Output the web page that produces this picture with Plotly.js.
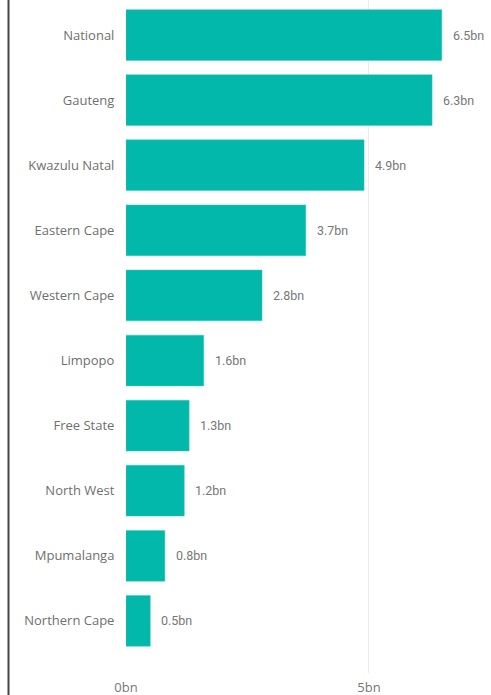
<!DOCTYPE html>
<html>
<head>
<meta charset="utf-8">
<script src="https://cdn.plot.ly/plotly-3.0.1.min.js"></script>
<style>html,body{margin:0;padding:0;background:#fff;}#chart{width:491px;height:695px;}</style>
</head>
<body>
<div id="chart"></div>
<script>
const provinces = ["National","Gauteng","Kwazulu Natal","Eastern Cape","Western Cape","Limpopo","Free State","North West","Mpumalanga","Northern Cape"];
const values = [6.5, 6.3, 4.9, 3.7, 2.8, 1.6, 1.3, 1.2, 0.8, 0.5];
const valueLabels = values.map(v => v.toFixed(1) + "bn");
const tickVals = [0, 5];
const tickText = ["0bn", "5bn"];

const trace = {
  type: "bar",
  orientation: "h",
  y: provinces,
  x: values,
  marker: {color: "#01B8AA", line: {color: "#3fcabf", width: 0.5}},
  width: 0.78,
  hoverinfo: "none"
};

const annotations = provinces.map((p, i) => ({
  x: values[i], y: p, xref: "x", yref: "y",
  text: valueLabels[i], showarrow: false,
  xanchor: "left", xshift: 9,
  font: {family: "Liberation Sans Narrow, Roboto, sans-serif", size: 12.5, color: "#777"}
}));

const layout = {
  width: 491, height: 695,
  margin: {l: 126, r: 4, t: 0, b: 22},
  paper_bgcolor: "#fff", plot_bgcolor: "#fff",
  showlegend: false,
  bargap: 0.22,
  font: {family: "Open Sans, sans-serif", color: "#6f6f6f"},
  xaxis: {
    range: [0, 7.43],
    tickvals: tickVals, ticktext: tickText,
    showgrid: true, gridcolor: "#ebebeb", gridwidth: 1,
    zeroline: false, showline: false,
    ticks: "outside", ticklen: 2, tickcolor: "rgba(0,0,0,0)",
    tickfont: {family: "Open Sans, sans-serif", size: 13, color: "#777"},
    fixedrange: true
  },
  yaxis: {
    type: "category",
    categoryorder: "array", categoryarray: provinces,
    range: [9.8, -0.538],
    showgrid: false, zeroline: false, showline: false,
    ticks: "outside", ticklen: 8, tickcolor: "rgba(0,0,0,0)",
    tickfont: {family: "Open Sans, sans-serif", size: 13, color: "#6f6f6f"},
    fixedrange: true
  },
  shapes: [{
    type: "line", xref: "paper", yref: "paper",
    x0: -0.3255, x1: -0.3255, y0: -0.04, y1: 1.01,
    line: {color: "#444", width: 2}
  }],
  annotations: annotations
};

Plotly.newPlot("chart", [trace], layout, {displayModeBar: false, staticPlot: true});
</script>
</body>
</html>
